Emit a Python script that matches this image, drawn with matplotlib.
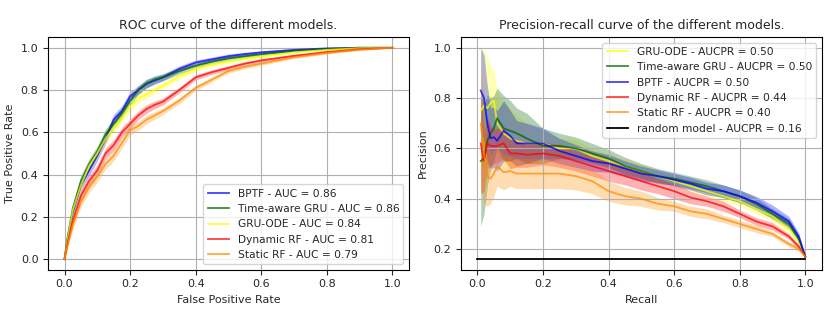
import numpy as np
from matplotlib import pyplot as plt

# ROC data (shared false positive rate grid)
fpr = [0.0, 0.01, 0.025, 0.05, 0.075, 0.1, 0.125, 0.15, 0.175, 0.2, 0.225, 0.25, 0.275, 0.3,
       0.35, 0.4, 0.45, 0.5, 0.55, 0.6, 0.7, 0.8, 0.9, 1.0]
roc_bptf = [0.0, 0.1, 0.22, 0.35, 0.42, 0.49, 0.57, 0.66, 0.7, 0.77, 0.8, 0.83, 0.845, 0.86,
            0.9, 0.93, 0.945, 0.96, 0.97, 0.978, 0.99, 0.997, 1.0, 1.0]
roc_tgru = [0.0, 0.11, 0.24, 0.37, 0.45, 0.51, 0.59, 0.64, 0.69, 0.75, 0.8, 0.83, 0.85, 0.86,
            0.89, 0.915, 0.935, 0.95, 0.96, 0.97, 0.985, 0.995, 1.0, 1.0]
roc_gruode = [0.0, 0.1, 0.23, 0.35, 0.44, 0.5, 0.57, 0.62, 0.67, 0.72, 0.76, 0.78, 0.8, 0.82,
              0.865, 0.9, 0.92, 0.935, 0.948, 0.958, 0.978, 0.99, 0.998, 1.0]
roc_dynrf = [0.0, 0.08, 0.18, 0.3, 0.37, 0.42, 0.5, 0.54, 0.6, 0.64, 0.68, 0.71, 0.73, 0.745,
             0.8, 0.86, 0.885, 0.905, 0.925, 0.94, 0.962, 0.98, 0.993, 1.0]
roc_statrf = [0.0, 0.07, 0.16, 0.27, 0.34, 0.39, 0.45, 0.49, 0.55, 0.61, 0.63, 0.66, 0.68, 0.7,
              0.75, 0.81, 0.85, 0.89, 0.91, 0.925, 0.955, 0.975, 0.99, 1.0]
roc_std = [0.0, 0.01, 0.02, 0.025, 0.025, 0.025, 0.025, 0.025, 0.025, 0.022, 0.02, 0.02, 0.018,
           0.016, 0.014, 0.012, 0.011, 0.01, 0.009, 0.008, 0.006, 0.004, 0.002, 0.0]
auc = [0.86, 0.86, 0.84, 0.81, 0.79]

# precision-recall data (shared recall grid)
recall = [0.01, 0.02, 0.03, 0.04, 0.05, 0.06, 0.08, 0.1, 0.12, 0.15, 0.2, 0.25, 0.3, 0.35,
          0.4, 0.45, 0.5, 0.55, 0.6, 0.65, 0.7, 0.75, 0.8, 0.85, 0.9, 0.95, 0.98, 1.0]
pr_gruode = [0.75, 0.77, 0.76, 0.78, 0.79, 0.7, 0.66, 0.64, 0.63, 0.62, 0.62, 0.6, 0.6, 0.57,
             0.55, 0.53, 0.51, 0.49, 0.47, 0.45, 0.43, 0.41, 0.39, 0.36, 0.33, 0.28, 0.23, 0.17]
pr_tgru = [0.55, 0.56, 0.63, 0.66, 0.68, 0.72, 0.68, 0.67, 0.66, 0.64, 0.61, 0.61, 0.6, 0.58,
           0.56, 0.53, 0.51, 0.49, 0.48, 0.465, 0.45, 0.43, 0.41, 0.38, 0.34, 0.3, 0.24, 0.17]
pr_bptf = [0.83, 0.8, 0.7, 0.64, 0.645, 0.63, 0.67, 0.65, 0.62, 0.62, 0.62, 0.59, 0.57, 0.55,
           0.54, 0.52, 0.5, 0.49, 0.475, 0.46, 0.44, 0.43, 0.41, 0.385, 0.35, 0.31, 0.25, 0.17]
pr_dynrf = [0.62, 0.55, 0.62, 0.61, 0.61, 0.61, 0.62, 0.58, 0.58, 0.575, 0.58, 0.57, 0.55, 0.53,
            0.51, 0.49, 0.47, 0.45, 0.43, 0.405, 0.39, 0.37, 0.34, 0.31, 0.29, 0.25, 0.21, 0.17]
pr_statrf = [0.7, 0.58, 0.49, 0.48, 0.5, 0.53, 0.505, 0.51, 0.5, 0.5, 0.5, 0.5, 0.49, 0.47,
             0.43, 0.41, 0.4, 0.38, 0.37, 0.35, 0.34, 0.32, 0.3, 0.28, 0.26, 0.22, 0.2, 0.17]
pr_std_gruode = [0.25, 0.22, 0.2, 0.15, 0.12, 0.13, 0.12, 0.12, 0.1, 0.08, 0.05, 0.04, 0.035, 0.03,
                 0.03, 0.025, 0.025, 0.02, 0.02, 0.02, 0.02, 0.02, 0.02, 0.02, 0.02, 0.015, 0.01, 0.0]
pr_std_tgru = [0.26, 0.22, 0.18, 0.14, 0.13, 0.12, 0.13, 0.12, 0.1, 0.1, 0.07, 0.05, 0.045, 0.04,
               0.035, 0.035, 0.03, 0.03, 0.025, 0.025, 0.025, 0.025, 0.025, 0.025, 0.02, 0.02, 0.015, 0.0]
pr_std_bptf = [0.17, 0.17, 0.15, 0.12, 0.12, 0.12, 0.12, 0.1, 0.09, 0.08, 0.06, 0.05, 0.045, 0.04,
               0.035, 0.03, 0.03, 0.025, 0.025, 0.025, 0.025, 0.025, 0.025, 0.025, 0.025, 0.02, 0.015, 0.0]
pr_std_dynrf = [0.2, 0.12, 0.1, 0.08, 0.07, 0.07, 0.06, 0.06, 0.055, 0.05, 0.045, 0.045, 0.04, 0.04,
                0.04, 0.035, 0.035, 0.03, 0.03, 0.025, 0.02, 0.02, 0.015, 0.015, 0.015, 0.01, 0.01, 0.0]
pr_std_statrf = [0.25, 0.2, 0.12, 0.1, 0.09, 0.08, 0.07, 0.06, 0.06, 0.06, 0.06, 0.06, 0.055, 0.05,
                 0.04, 0.035, 0.03, 0.025, 0.02, 0.02, 0.02, 0.015, 0.015, 0.015, 0.01, 0.01, 0.01, 0.0]
aucpr = [0.50, 0.50, 0.50, 0.44, 0.40]
random_precision = 0.16

colors = {'BPTF': 'blue', 'Time-aware GRU': 'darkgreen', 'GRU-ODE': 'yellow',
          'Dynamic RF': 'red', 'Static RF': 'darkorange'}

plt.rcParams['font.size'] = 8
plt.rcParams['text.color'] = '#262626'
plt.rcParams['axes.labelcolor'] = '#262626'
plt.rcParams['xtick.color'] = '#262626'
plt.rcParams['ytick.color'] = '#262626'
fig, (ax1, ax2) = plt.subplots(1, 2, figsize=(8.3, 3.1), dpi=100)
fig.subplots_adjust(left=0.058, right=0.99, top=0.88, bottom=0.13, wspace=0.145)

roc_series = [('BPTF', roc_bptf), ('Time-aware GRU', roc_tgru), ('GRU-ODE', roc_gruode),
              ('Dynamic RF', roc_dynrf), ('Static RF', roc_statrf)]
x = np.array(fpr)
s = np.array(roc_std)
for (name, vals), a in zip(roc_series, auc):
    y = np.array(vals)
    c = colors[name]
    ax1.plot(x, y, color=c, alpha=0.75, lw=1.3, label=f'{name} - AUC = {a:.2f}')
    ax1.fill_between(x, y - s, np.minimum(y + s, 1.0), color=c, alpha=0.3, lw=0)
ax1.grid(True)
ax1.set_title('ROC curve of the different models.', fontsize=9)
ax1.set_xlabel('False Positive Rate')
ax1.set_ylabel('True Positive Rate')
ax1.legend(loc='lower right', fontsize=7.7)

pr_series = [('GRU-ODE', pr_gruode, pr_std_gruode), ('Time-aware GRU', pr_tgru, pr_std_tgru),
             ('BPTF', pr_bptf, pr_std_bptf), ('Dynamic RF', pr_dynrf, pr_std_dynrf),
             ('Static RF', pr_statrf, pr_std_statrf)]
r = np.array(recall)
for (name, vals, std), a in zip(pr_series, aucpr):
    y = np.array(vals)
    sd = np.array(std)
    c = colors[name]
    ax2.plot(r, y, color=c, alpha=0.75, lw=1.3, label=f'{name} - AUCPR = {a:.2f}')
    ax2.fill_between(r, y - sd, np.minimum(y + sd, 1.0), color=c, alpha=0.3, lw=0)
ax2.plot([0, 1], [random_precision, random_precision], color='black', lw=1.3,
         label=f'random model - AUCPR = {random_precision:.2f}')
ax2.grid(True)
ax2.set_title('Precision-recall curve of the different models.', fontsize=9)
ax2.set_xlabel('Recall')
ax2.set_ylabel('Precision')
ax2.legend(loc='upper right', fontsize=7.7)

fig.savefig('out.png')
